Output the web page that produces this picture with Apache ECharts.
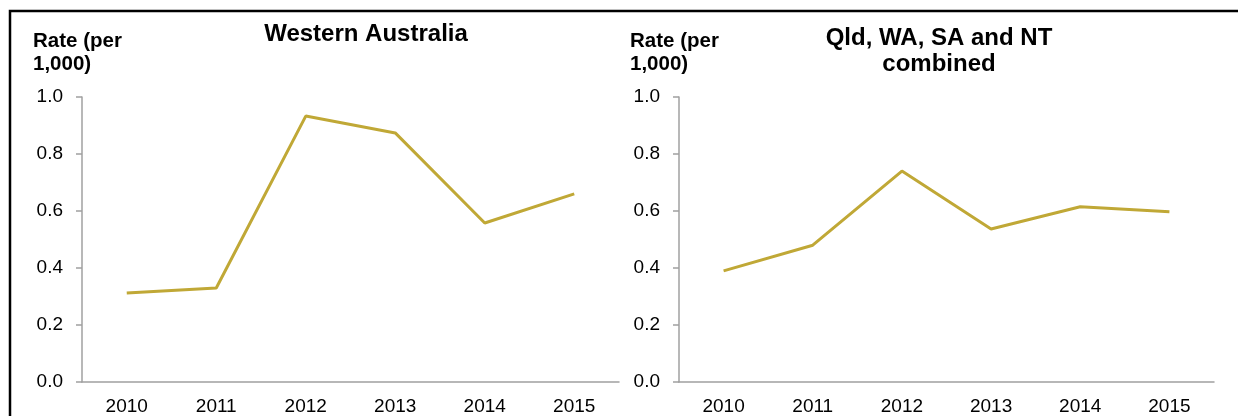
<!DOCTYPE html>
<html>
<head>
<meta charset="utf-8">
<script src="https://cdn.jsdelivr.net/npm/echarts@6/dist/echarts.min.js"></script>
<style>
  html, body { margin: 0; padding: 0; background: #fff; }
  #chart { width: 1238px; height: 416px; }
</style>
</head>
<body>
<div id="chart"></div>
<script>
// 年份
const years = ["2010", "2011", "2012", "2013", "2014", "2015"];
// Western Australia
const waRate = [0.312, 0.33, 0.933, 0.874, 0.558, 0.66];
// Qld, WA, SA and NT combined
const combinedRate = [0.39, 0.48, 0.74, 0.537, 0.615, 0.597];
// y轴刻度
const yTicks = { min: 0, max: 1, interval: 0.2 };

const font = "'Liberation Sans', Arial, sans-serif";
const axisGrey = "#a0a0a0";
const lineColour = "#c0a836";

function xAxisFor(gridIndex) {
  return {
    type: "category",
    gridIndex: gridIndex,
    data: years,
    boundaryGap: true,
    axisLine: { lineStyle: { color: axisGrey, width: 1.5 } },
    axisTick: { length: 6, lineStyle: { color: axisGrey, width: 1.5 } },
    axisLabel: { color: "#000", fontSize: 19, fontFamily: font, margin: 15 },
  };
}

function yAxisFor(gridIndex) {
  return {
    type: "value",
    gridIndex: gridIndex,
    min: yTicks.min,
    max: yTicks.max,
    interval: yTicks.interval,
    axisLine: { show: true, lineStyle: { color: axisGrey, width: 1.5 } },
    axisTick: { show: true, length: 6, lineStyle: { color: axisGrey, width: 1.5 } },
    splitLine: { show: false },
    axisLabel: {
      color: "#000", fontSize: 19, fontFamily: font, margin: 19,
      formatter: (v) => v.toFixed(1),
    },
  };
}

function lineSeries(idx, data) {
  return {
    type: "line",
    xAxisIndex: idx,
    yAxisIndex: idx,
    data: data,
    symbol: "none",
    lineStyle: { color: lineColour, width: 3 },
  };
}

const titleStyle = { color: "#000", fontSize: 24, fontWeight: "bold", fontFamily: font, lineHeight: 26 };
const nameStyle = { color: "#000", fontSize: 20.5, fontWeight: "bold", fontFamily: font, lineHeight: 23 };

const option = {
  animation: false,
  title: [
    { text: "Western Australia", left: 366, top: 21, padding: 0, textAlign: "center", textStyle: titleStyle },
    { text: "Qld, WA, SA and NT\ncombined", left: 939, top: 25, padding: 0, textAlign: "center", textStyle: titleStyle },
    { text: "Rate (per\n1,000)", left: 33, top: 30, padding: 0, textStyle: nameStyle },
    { text: "Rate (per\n1,000)", left: 630, top: 30, padding: 0, textStyle: nameStyle },
  ],
  grid: [
    { left: 82, top: 97, width: 537, height: 285 },
    { left: 679, top: 97, width: 535, height: 285 },
  ],
  xAxis: [xAxisFor(0), xAxisFor(1)],
  yAxis: [yAxisFor(0), yAxisFor(1)],
  series: [lineSeries(0, waRate), lineSeries(1, combinedRate)],
  graphic: [
    {
      type: "rect",
      shape: { x: 10, y: 11, width: 1300, height: 500 },
      style: { fill: "none", stroke: "#000", lineWidth: 2.5 },
      silent: true,
    },
  ],
};

const chart = echarts.init(document.getElementById("chart"));
chart.setOption(option);
</script>
</body>
</html>
